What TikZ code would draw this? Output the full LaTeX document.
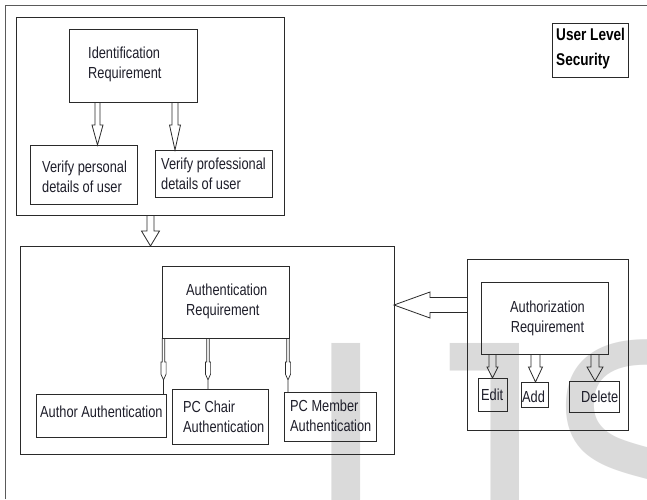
\documentclass[tikz,border=0pt]{standalone}
\usepackage{fontspec}
\setmainfont{Liberation Sans}
\newfontfamily\labfont[FakeStretch=0.8]{Liberation Sans}
\newfontfamily\markfont[FakeStretch=0.85]{Liberation Sans}
\usetikzlibrary{calc}

\definecolor{boxc}{HTML}{2A2A2A}
\definecolor{txtc}{HTML}{1E1E2A}
\definecolor{framec}{HTML}{5A5A5A}
\definecolor{wmc}{HTML}{DADADA}

\tikzset{
  box/.style={draw=boxc, line width=0.9pt, rectangle, inner sep=0pt, outer sep=0pt, anchor=north west},
  txt/.style={font=\labfont\fontsize{16}{20}\selectfont, text=txtc, align=left, inner sep=0pt, anchor=west},
  txtc/.style={txt, align=center, anchor=center},
  boldtxt/.style={font=\labfont\bfseries\fontsize{17}{25}\selectfont, text=black, align=left, inner sep=0pt, anchor=west},
  blk/.style={draw=boxc, line width=0.8pt, line join=miter},
  thn/.style={draw=boxc, line width=0.7pt},
  frameline/.style={draw=framec, line width=0.9pt},
}

% hollow block arrow pointing down: from, to, shaft half width, head half width, head length
\newcommand\hollowdown[5]{%
  \draw[blk] let \p1=(#1), \p2=(#2) in
    (\x1-#3,\y1) -- (\x1-#3,\y2+#5) -- (\x1-#4,\y2+#5) -- (\x1,\y2)
    -- (\x1+#4,\y2+#5) -- (\x1+#3,\y2+#5) -- (\x1+#3,\y1);}
% hollow block arrow pointing left
\newcommand\hollowleft[5]{%
  \draw[blk] let \p1=(#1), \p2=(#2) in
    (\x1,\y1+#3) -- (\x2+#5,\y1+#3) -- (\x2+#5,\y1+#4) -- (\x2,\y1)
    -- (\x2+#5,\y1-#4) -- (\x2+#5,\y1-#3) -- (\x1,\y1-#3);}
% slim double-line connector with a small hollow head part way down
\newcommand\slimdown[2]{%
  \draw[thn] let \p1=(#1), \p2=(#2) in
    (\x1-1.3pt,\y1) -- (\x1-1.3pt,\y1-24pt) -- (\x1-2.6pt,\y1-24pt) -- (\x1-2.6pt,\y1-36pt)
    -- (\x1,\y1-42pt) -- (\x1+2.6pt,\y1-36pt) -- (\x1+2.6pt,\y1-24pt) -- (\x1+1.3pt,\y1-24pt)
    -- (\x1+1.3pt,\y1)
    (\x1,\y1-42pt) -- (\x2,\y2);}

\begin{document}
\begin{tikzpicture}[x=1pt, y=-1pt]
\useasboundingbox (0,0) rectangle (647,499);
\fill[white] (0,0) rectangle (647,499);

% faint journal mark in the background
\begin{scope}
  \clip (0,0) rectangle (647,499);
  \node[font=\markfont\fontsize{362}{362}\selectfont, text=wmc, anchor=base west, inner sep=0pt] (wmark) at (303,592) {IJS};
\end{scope}

% page frame
\draw[frameline] (5,499) -- (5,5) -- (647,5);

% identification block
\node[box, minimum width=268pt, minimum height=198pt] (idcont) at (16,17) {};
\node[box, minimum width=128pt, minimum height=73pt] (idr) at (69,29) {};
\node[box, minimum width=107pt, minimum height=59pt] (verp) at (30,145) {};
\node[box, minimum width=117pt, minimum height=47pt] (verf) at (155,150) {};
\node[txt] (idr-t) at (88,64) {Identification\\Requirement};
\node[txt] (verp-t) at (42,177) {Verify personal\\details of user};
\node[txt] (verf-t) at (161,174) {Verify professional\\details of user};

% authentication block
\node[box, minimum width=374pt, minimum height=208pt] (acont) at (20,246) {};
\node[box, minimum width=127pt, minimum height=72pt] (areq) at (162,266) {};
\node[box, minimum width=130pt, minimum height=43pt] (auth1) at (36,394) {};
\node[box, minimum width=96pt, minimum height=55pt] (auth2) at (172,389) {};
\node[box, minimum width=92pt, minimum height=49pt] (auth3) at (284,392) {};
\node[txt] (areq-t) at (186,301) {Authentication\\Requirement};
\node[txt] (auth1-t) at (40,412) {Author Authentication};
\node[txt] (auth2-t) at (183,417) {PC Chair\\Authentication};
\node[txt] (auth3-t) at (290,416) {PC Member\\Authentication};

% authorization block
\node[box, minimum width=161pt, minimum height=171pt] (zcont) at (467,259) {};
\node[box, minimum width=127pt, minimum height=72pt] (zreq) at (481,282) {};
\node[box, minimum width=29pt, minimum height=33pt] (edit) at (478,378) {};
\node[box, minimum width=27pt, minimum height=25pt] (add) at (521,382) {};
\node[box, minimum width=50pt, minimum height=31pt] (del) at (569,381) {};
\node[txtc] (zreq-t) at (547.5,318) {Authorization\\Requirement};
\node[txt] (edit-t) at (481,395) {Edit};
\node[txt] (add-t) at (522,397) {Add};
\node[txt] (del-t) at (581,397) {Delete};

% title box
\node[box, minimum width=76pt, minimum height=54pt] (uls) at (552,23) {};
\node[boldtxt] (uls-t) at (556,49) {User Level\\Security};

% connector positions
\coordinate (xa) at (97.5,0);
\coordinate (xb) at (175,0);
\coordinate (xc) at (150.5,0);
\coordinate (xd) at (163.5,0);
\coordinate (xe) at (208,0);
\coordinate (xf) at (288,0);
\coordinate (xg) at (492.5,0);
\coordinate (xh) at (535.5,0);
\coordinate (xi) at (595,0);
\coordinate (ya) at (0,305);

% connectors
\hollowdown{idr.south -| xa}{verp.north -| xa}{2.5pt}{5.5pt}{20pt}
\hollowdown{idr.south -| xb}{verf.north -| xb}{3pt}{5.5pt}{25pt}
\hollowdown{idcont.south -| xc}{acont.north -| xc}{3.5pt}{9pt}{15pt}
\hollowleft{zcont.west |- ya}{acont.east |- ya}{7.5pt}{13pt}{36pt}
\slimdown{areq.south -| xd}{auth1.north -| xd}
\slimdown{areq.south -| xe}{auth2.north -| xe}
\slimdown{areq.south -| xf}{auth3.north -| xf}
\hollowdown{zreq.south -| xg}{edit.north -| xg}{3.5pt}{5.5pt}{11pt}
\hollowdown{zreq.south -| xh}{add.north -| xh}{4.5pt}{7pt}{15pt}
\hollowdown{zreq.south -| xi}{del.north -| xi}{4pt}{8pt}{14pt}
\end{tikzpicture}
\end{document}
